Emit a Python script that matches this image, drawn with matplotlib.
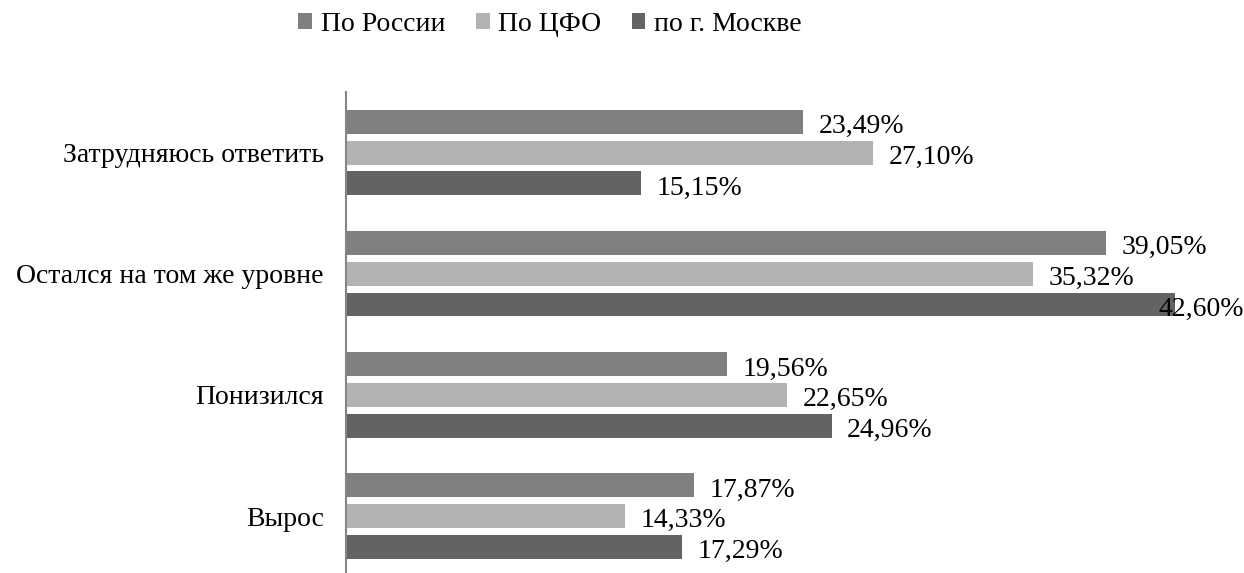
import numpy as np
import matplotlib
matplotlib.use("Agg")
import matplotlib.pyplot as plt

plt.rcParams.update({"font.family": ["Liberation Serif", "DejaVu Serif"], "font.size": 20})

categories = ["Вырос", "Понизился", "Остался на том же уровне", "Затрудняюсь ответить"]
series = ["По России", "По ЦФО", "по г. Москве"]
russia = [17.87, 19.56, 39.05, 23.49]
cfo = [14.33, 22.65, 35.32, 27.10]
moscow = [17.29, 24.96, 42.60, 15.15]
colors = ["#808080", "#b3b3b3", "#636363"]

fig = plt.figure(figsize=(12.44, 5.73), dpi=100)
ax = fig.add_axes([346 / 1244, 0, 898 / 1244, 481 / 573])
XMAX = 46.15
y = np.arange(len(categories))
step, h = 0.254, 0.197
for k, (name, vals, c) in enumerate(zip(series, [russia, cfo, moscow], colors)):
    pos = y + step * (1 - k)
    ax.barh(pos, vals, height=h, color=c, label=name)
    for p, v in zip(pos, vals):
        txt = f"{v:.2f}%".replace(".", ",")
        if v + 0.8 + 4.4 > XMAX:
            ax.text(XMAX, p - 0.04, txt, ha="right", va="center", clip_on=False)
        else:
            ax.text(v + 0.8, p - 0.04, txt, ha="left", va="center")

ax.set_xlim(0, XMAX)
ax.set_ylim(-0.47, 3.5)
ax.set_yticks(y)
ax.set_yticklabels(categories)
ax.tick_params(axis="y", length=0, pad=16)
ax.set_xticks([])
for s in ["top", "right", "bottom"]:
    ax.spines[s].set_visible(False)
ax.spines["left"].set_color("#868686")
ax.spines["left"].set_linewidth(1.5)

fig.legend(loc="center", bbox_to_anchor=(0.442, 0.957), ncol=3, frameon=False,
           handlelength=0.5, handleheight=0.5, handletextpad=0.3, columnspacing=1.1)
fig.savefig("out.png")
